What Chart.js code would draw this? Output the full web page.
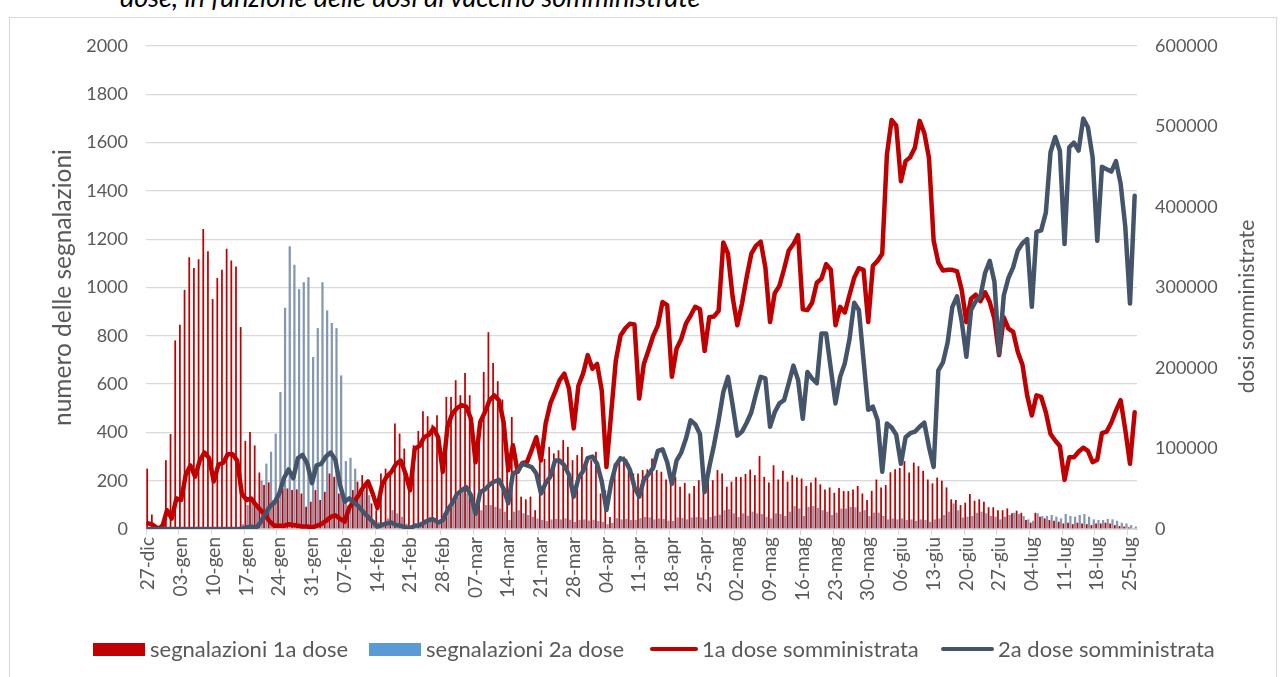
<!DOCTYPE html>
<html>
<head>
<meta charset="utf-8">
<script src="https://cdn.jsdelivr.net/npm/chart.js@4.4.1/dist/chart.umd.min.js"></script>
<style>
  body { margin: 0; background: #fff; font-family: Lato, "Open Sans", sans-serif; }
  #wrap { position: relative; width: 1282px; height: 677px; overflow: hidden; }
  #frame { position: absolute; left: 9px; top: 17px; width: 1266px; height: 700px; border: 1px solid #d9d9d9; }
  #title { position: absolute; left: 120px; top: -17px; font-style: italic; font-size: 27px; line-height: 27px; color: #000; white-space: nowrap; }
  #chart { position: absolute; left: 0; top: 0; }
  .lg { position: absolute; top: 637px; font-size: 22px; line-height: 24px; color: #595959; white-space: nowrap; }
  .sw { position: absolute; }
</style>
</head>
<body>
<div id="wrap">
  <div id="frame"></div>
  <div id="title">dose, in funzione delle dosi di vaccino somministrate</div>
  <canvas id="chart" width="1282" height="677"></canvas>
  <div class="sw" style="left:93px;top:643px;width:52px;height:13px;background:#C00000"></div>
  <div class="lg" style="left:150px">segnalazioni 1a dose</div>
  <div class="sw" style="left:369px;top:643px;width:52px;height:13px;background:#5B9BD5"></div>
  <div class="lg" style="left:426px">segnalazioni 2a dose</div>
  <div class="sw" style="left:650px;top:647px;width:48px;height:4px;border-radius:2px;background:#C00000"></div>
  <div class="lg" style="left:702px">1a dose somministrata</div>
  <div class="sw" style="left:941px;top:647px;width:53px;height:4px;border-radius:2px;background:#44546A"></div>
  <div class="lg" style="left:998px">2a dose somministrata</div>
</div>
<script>
// weekly tick labels shown on the x axis (one every 7 days)
const tickLabels = ['27-dic','03-gen','10-gen','17-gen','24-gen','31-gen','07-feb','14-feb','21-feb','28-feb',
  '07-mar','14-mar','21-mar','28-mar','04-apr','11-apr','18-apr','25-apr','02-mag','09-mag','16-mag','23-mag',
  '30-mag','06-giu','13-giu','20-giu','27-giu','04-lug','11-lug','18-lug','25-lug'];

// daily categories from 27-dic-2020 to 26-lug-2021
const mesi = ['gen','feb','mar','apr','mag','giu','lug','ago','set','ott','nov','dic'];
const days = [];
for (let d = new Date(2020, 11, 27); d <= new Date(2021, 6, 26); d.setDate(d.getDate() + 1)) {
  days.push(String(d.getDate()).padStart(2, '0') + '-' + mesi[d.getMonth()]);
}

// segnalazioni 1a dose (left axis)
const seg1 = [250,60,5,20,285,393,781,846,990,1125,1081,1117,1242,1150,952,1039,1073,1160,1112,1087,
  836,365,402,346,234,182,193,120,140,168,168,161,164,147,92,113,161,120,154,230,
  216,147,134,92,161,196,223,202,106,78,230,250,230,437,395,333,161,347,406,488,
  467,432,471,271,547,547,616,554,646,554,340,440,650,815,687,612,536,313,464,271,
  134,123,134,78,280,290,340,313,326,368,340,285,306,340,299,285,320,147,160,50,
  271,278,300,270,230,230,244,247,292,244,237,205,189,216,175,191,147,178,202,182,
  209,202,244,230,175,196,216,215,228,246,223,302,216,193,264,205,241,196,223,213,
  209,178,193,213,185,164,172,150,170,157,157,164,178,147,120,158,205,172,182,235,
  247,253,281,234,275,260,241,205,189,213,200,172,123,120,99,109,145,117,123,113,
  90,90,78,78,85,65,76,67,37,26,67,51,44,37,34,30,23,26,20,26,
  23,20,16,23,23,26,23,16,12,10,7,3];

// segnalazioni 2a dose (left axis)
const seg2 = [0,0,0,0,0,0,0,0,0,0,0,0,0,0,0,0,0,0,0,0,
  20,100,110,85,200,271,320,395,567,916,1171,1094,993,1022,1043,712,832,1022,905,853,
  832,636,281,295,250,168,161,140,37,30,26,44,78,65,51,23,16,23,30,40,
  51,37,23,65,85,106,134,161,147,134,72,78,99,99,92,85,72,37,72,78,
  65,58,51,44,37,33,40,42,40,44,38,30,38,40,35,38,33,30,20,25,
  45,40,42,37,38,45,50,48,40,44,42,35,33,48,46,40,48,50,48,40,
  50,55,60,78,82,65,50,65,55,72,65,62,51,44,65,62,54,72,95,85,
  54,92,95,88,78,72,58,68,85,85,92,90,72,78,54,68,68,54,40,44,
  40,44,37,40,34,40,37,30,40,44,58,72,106,78,48,51,54,67,72,65,
  54,51,40,51,58,67,62,54,40,34,65,54,54,58,51,44,62,54,51,58,
  62,51,40,37,37,42,40,34,26,23,16,10];

// 1a dose somministrata (right axis)
const dose1 = [7000,5000,800,3000,23500,13000,38000,36000,67000,79000,65000,85000,95000,88000,59000,80000,82000,93000,93000,85000,
  44000,36000,38000,30000,23500,17000,9000,4000,4000,4000,6000,5000,4000,3000,3000,2000,4000,6000,10000,15000,
  17000,13000,9000,27000,34000,42000,52000,59000,44000,26000,55000,65000,71000,81000,85000,69000,48000,100000,103000,114000,
  117000,125000,114000,71000,127000,143000,150000,154000,152000,137000,83000,133000,145000,160000,166000,160000,133000,73000,104000,71000,
  82000,83000,98000,114000,85000,131000,156000,170000,185000,193000,174000,125000,178000,193000,216000,199000,205000,172000,77000,143000,
  209000,240000,249000,255000,254000,162000,205000,222000,240000,253000,282000,278000,189000,224000,236000,255000,265000,276000,273000,221000,
  263000,264000,271000,356000,342000,288000,253000,280000,313000,342000,352000,357000,325000,257000,293000,302000,323000,346000,354000,365000,
  273000,272000,281000,306000,311000,329000,322000,253000,276000,269000,291000,312000,324000,322000,257000,327000,333000,342000,465000,508000,
  501000,432000,457000,462000,474000,507000,492000,461000,358000,331000,321000,322000,322000,320000,297000,257000,286000,291000,283000,294000,
  282000,261000,216000,263000,249000,245000,220000,204000,166000,141000,166000,164000,145000,118000,110000,103000,61000,89000,89000,96000,
  101000,97000,83000,86000,119000,121000,132000,147000,160000,123000,81000,145000];

// 2a dose somministrata (right axis)
const dose2 = [0,0,0,0,0,0,0,0,0,0,0,0,0,0,0,0,0,0,0,0,
  0,2000,3000,1000,8000,19000,28000,33000,44000,63000,74000,63000,88000,92000,81000,57000,79000,81000,90000,95000,
  86000,55000,34000,38000,33000,28000,21000,15000,9000,3000,5000,7000,8000,5000,4000,2000,1000,4000,4500,8000,
  11000,12000,8000,11000,23500,32000,43000,48000,52000,42000,19000,46000,49000,55000,59000,61000,50000,32000,69000,72000,
  81000,79000,77000,69000,44000,57000,65000,85000,85000,79000,67000,40000,63000,72000,88000,90000,81000,59000,23500,57000,
  79000,88000,85000,74000,52000,40000,61000,68000,76000,97000,99000,83000,56000,85000,95000,112000,135000,130000,118000,46000,
  77000,104000,135000,170000,189000,154000,116000,121000,132000,145000,168000,189000,187000,127000,145000,156000,160000,181000,203000,185000,
  137000,195000,187000,181000,243000,243000,199000,156000,189000,206000,236000,281000,272000,210000,148000,152000,135000,71000,131000,126000,
  117000,81000,114000,119000,121000,127000,132000,102000,77000,197000,207000,232000,276000,289000,258000,214000,272000,283000,289000,318000,
  333000,307000,218000,290000,312000,325000,346000,355000,360000,276000,369000,371000,393000,468000,487000,470000,354000,474000,480000,470000,
  510000,499000,462000,358000,450000,447000,444000,457000,429000,375000,280000,414000];

const grey = '#595959';
const font = 'Lato, "Open Sans", sans-serif';

// right axis title, written bottom-to-top like the left one
const rightTitle = {
  id: 'rightTitle',
  afterDraw(chart) {
    const c = chart.ctx;
    const a = chart.chartArea;
    c.save();
    c.translate(1247, (a.top + a.bottom) / 2 + 19);
    c.rotate(-Math.PI / 2);
    c.fillStyle = grey;
    c.font = '21px ' + font;
    c.textAlign = 'center';
    c.textBaseline = 'middle';
    c.fillText('dosi somministrate', 0, 0);
    c.restore();
  }
};

new Chart(document.getElementById('chart'), {
  data: {
    labels: days,
    datasets: [
      { type: 'line', label: '2a dose somministrata', data: dose2, yAxisID: 'y1', order: 0,
        borderColor: '#44546A', borderWidth: 4.5, pointRadius: 0, tension: 0,
        borderJoinStyle: 'round', borderCapStyle: 'round' },
      { type: 'line', label: '1a dose somministrata', data: dose1, yAxisID: 'y1', order: 1,
        borderColor: '#C00000', borderWidth: 4.5, pointRadius: 0, tension: 0,
        borderJoinStyle: 'round', borderCapStyle: 'round' },
      { type: 'bar', label: 'segnalazioni 1a dose', data: seg1, yAxisID: 'y', order: 2,
        backgroundColor: '#C00000', categoryPercentage: 1, barPercentage: 0.75 },
      { type: 'bar', label: 'segnalazioni 2a dose', data: seg2, yAxisID: 'y', order: 3,
        backgroundColor: '#8497B0', categoryPercentage: 1, barPercentage: 0.95 }
    ]
  },
  options: {
    responsive: false,
    animation: false,
    layout: { padding: { left: 45, right: 17, top: 46, bottom: 58 } },
    plugins: { legend: { display: false }, tooltip: { enabled: false } },
    scales: {
      x: {
        grid: {
          offset: true, drawOnChartArea: false, drawTicks: true, tickLength: 6,
          color: c => (c.index % 7 === 0 ? '#D9D9D9' : 'rgba(0,0,0,0)')
        },
        border: { color: '#D9D9D9', width: 1 },
        ticks: {
          autoSkip: false, minRotation: 90, maxRotation: 90, padding: 2,
          color: grey, font: { family: font, size: 19 },
          callback: (v, i) => (i % 7 === 0 ? tickLabels[i / 7] : '')
        },
        afterFit: s => { s.height = 90; }
      },
      y: {
        position: 'left', min: 0, max: 2000,
        ticks: { stepSize: 200, color: grey, font: { family: font, size: 18 }, padding: 18,
          callback: v => String(v) },
        grid: { color: '#D9D9D9', drawTicks: false, lineWidth: 1.3 },
        border: { display: false },
        title: { display: true, text: 'numero delle segnalazioni', color: grey,
          font: { family: font, size: 24.5 }, padding: { top: 3, bottom: 0 } },
        afterFit: s => { s.width = 101; }
      },
      y1: {
        position: 'right', min: 0, max: 600000,
        ticks: { stepSize: 100000, color: grey, font: { family: font, size: 18 }, padding: 18,
          callback: v => String(v) },
        grid: { drawOnChartArea: false, drawTicks: false },
        border: { display: false },
        afterFit: s => { s.width = 128; }
      }
    }
  },
  plugins: [rightTitle]
});
</script>
</body>
</html>
